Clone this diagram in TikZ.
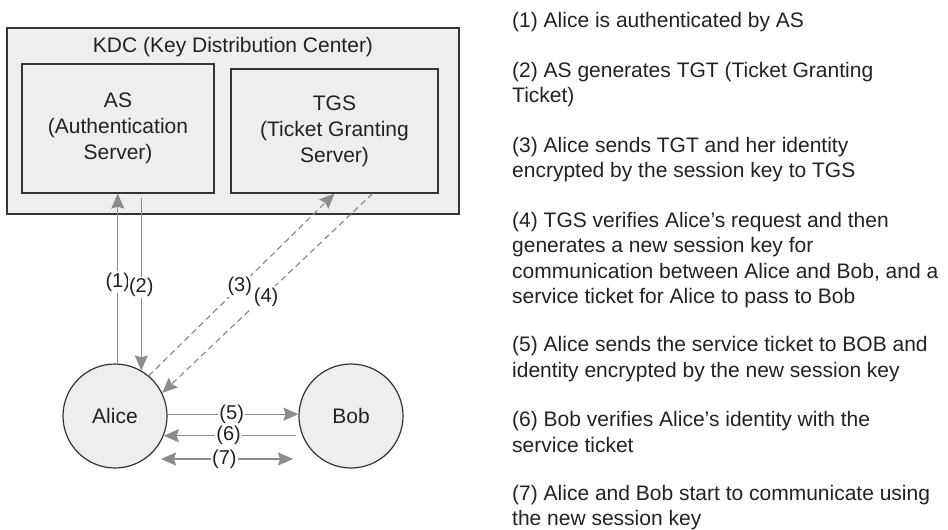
\documentclass[tikz,border=0pt]{standalone}
\usepackage{fontspec}
\setmainfont{Liberation Sans}
\usetikzlibrary{arrows.meta}
\definecolor{boxfill}{HTML}{EEEEEE}
\definecolor{edge}{HTML}{333333}
\definecolor{arr}{HTML}{8C8C8C}
\definecolor{ink}{HTML}{222222}
\tikzset{
  gtip/.tip={Stealth[inset=2pt,length=15pt,width=13pt]},
}
\begin{document}
\begin{tikzpicture}[x=1pt,y=-1pt,
  every node/.style={text=ink, font=\fontsize{21}{26}\selectfont},
  box/.style={draw=edge, fill=boxfill, line width=1.2pt, inner sep=0pt, align=center},
  party/.style={circle, draw=edge, fill=boxfill, line width=1.2pt, minimum size=104pt, inner sep=0pt},
  flow/.style={draw=arr, line width=1.2pt, -gtip},
  dflow/.style={flow, dash pattern=on 6pt off 4pt},
  lab/.style={fill=white, inner sep=1.5pt, font=\fontsize{20}{24}\selectfont},
  note/.style={anchor=north west, align=left, inner sep=0pt, font=\fontsize{21}{25.5}\selectfont}]
\useasboundingbox (0,0) rectangle (948,530);

% KDC container
\node[box, minimum width=452pt, minimum height=186pt] (kdc) at (233,121) {};
\node[anchor=base, inner sep=0pt] (kdctitle) at (233,52) {KDC (Key Distribution Center)};
\node[box, minimum width=192pt, minimum height=129pt] (as) at (118,128.5) {AS\\(Authentication\\Server)};
\node[box, minimum width=207pt, minimum height=124pt] (tgs) at (334.5,131) {TGS\\(Ticket Granting\\Server)};

% parties
\node[party] (alice) at (115,416) {Alice};
\node[party] (bob) at (351,416) {Bob};

% free ends of (7)
\coordinate (s7a) at (161,459);
\coordinate (s7b) at (293,459);

% flows
\draw[flow] (alice.87) -- node[lab, pos=0.48] (l1) {(1)} (alice.87 |- as.south);
\draw[flow] ([yshift=-4pt]alice.60 |- as.south) -- node[lab, pos=0.52] (l2) {(2)} (alice.60);
\draw[dflow] (alice.50) -- node[lab, pos=0.49] (l3) {(3)} (tgs.south);
\draw[dflow] ([xshift=38pt]tgs.south) -- node[lab, pos=0.52, xshift=3pt] (l4) {(4)} (alice.26);
\draw[flow] (alice.2) -- node[lab, pos=0.49] (l5) {(5)} (bob.178);
\draw[flow] ([xshift=-6pt]bob.202.6) -- node[lab, pos=0.51] (l6) {(6)} (alice.-22.6);
\draw[flow, gtip-gtip] (s7a) -- node[lab, pos=0.48] (l7) {(7)} (s7b);

% notes
\node[note] (n1) at (512,11.7) {(1) Alice is authenticated by AS};
\node[note] (n2) at (512,61.7) {(2) AS generates TGT (Ticket Granting\\Ticket)};
\node[note] (n3) at (512,136.7) {(3) Alice sends TGT and her identity\\encrypted by the session key to TGS};
\node[note] (n4) at (512,211.7) {(4) TGS verifies Alice’s request and then\\generates a new session key for\\communication between Alice and Bob, and a\\service ticket for Alice to pass to Bob};
\node[note] (n5) at (512,336.2) {(5) Alice sends the service ticket to BOB and\\identity encrypted by the new session key};
\node[note] (n6) at (512,411.2) {(6) Bob verifies Alice’s identity with the\\service ticket};
\node[note] (n7) at (512,484.7) {(7) Alice and Bob start to communicate using\\the new session key};
\end{tikzpicture}
\end{document}
